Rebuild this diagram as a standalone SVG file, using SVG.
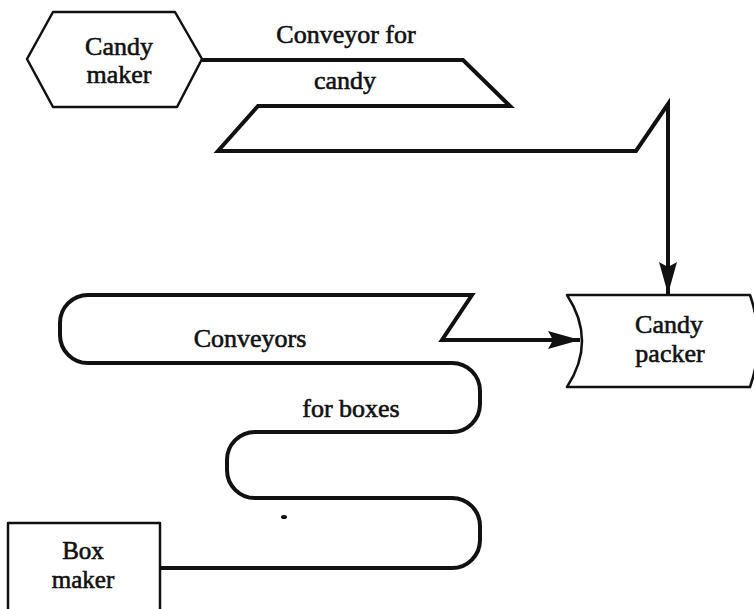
<svg xmlns="http://www.w3.org/2000/svg" width="754" height="609" viewBox="0 0 754 609">
<style>
  .lbl { font-family: "Liberation Serif", "Times New Roman", serif; font-size: 26px; fill: #111; stroke: #111; stroke-width: 0.6; text-anchor: middle; }
  .node { fill: #fff; stroke: #111; stroke-width: 2.5; stroke-linejoin: round; }
  .conv { fill: none; stroke: #111; stroke-width: 4; stroke-linejoin: miter; stroke-linecap: butt; }
</style>
<defs>
  <marker id="arrow" markerUnits="userSpaceOnUse" markerWidth="34" markerHeight="20" refX="32" refY="10" orient="auto">
    <path d="M0,1 L32,10 L0,19 L5,10 Z" fill="#111"/>
  </marker>
</defs>
<rect width="754" height="609" fill="#fff"/>

<g id="connectors">
  <path id="candy-conveyor" class="conv" d="M201,60 H463 L510,106 H258 L218,151 H636 L668,104 V294" marker-end="url(#arrow)"/>
  <path id="box-conveyor" class="conv" d="M160,568 H452 A28,28 0 0 0 480,540 V526 A28,28 0 0 0 452,498 H255 A28,28 0 0 1 227,470 V460 A28,28 0 0 1 255,432 H452 A28,28 0 0 0 480,404 V391 A28,28 0 0 0 452,363 H88 A28,28 0 0 1 60,335 V323 A28,28 0 0 1 88,295 H472 L442,340 H580" marker-end="url(#arrow)"/>
  <text class="lbl" x="346" y="43">Conveyor for</text>
  <text class="lbl" x="345" y="89">candy</text>
  <text class="lbl" x="250" y="347">Conveyors</text>
  <text class="lbl" x="351" y="417">for boxes</text>
</g>

<g id="candy-maker">
  <polygon class="node" points="53,12 175,12 202,59 177,107 53,107 27,59"/>
  <text class="lbl" x="119" y="55">Candy</text>
  <text class="lbl" x="119" y="83">maker</text>
</g>

<g id="candy-packer">
  <path class="node" d="M567,295 H750 Q766,341 750,387 H567 Q597,341 567,295 Z"/>
  <text class="lbl" x="669" y="333">Candy</text>
  <text class="lbl" x="670" y="362">packer</text>
</g>

<g id="box-maker">
  <rect class="node" x="8" y="523" width="152" height="100"/>
  <text class="lbl" x="83" y="559" style="font-size:25px">Box</text>
  <text class="lbl" x="83" y="588" style="font-size:25px">maker</text>
</g>

<ellipse cx="284" cy="517" rx="3" ry="2" fill="#111"/>
</svg>
